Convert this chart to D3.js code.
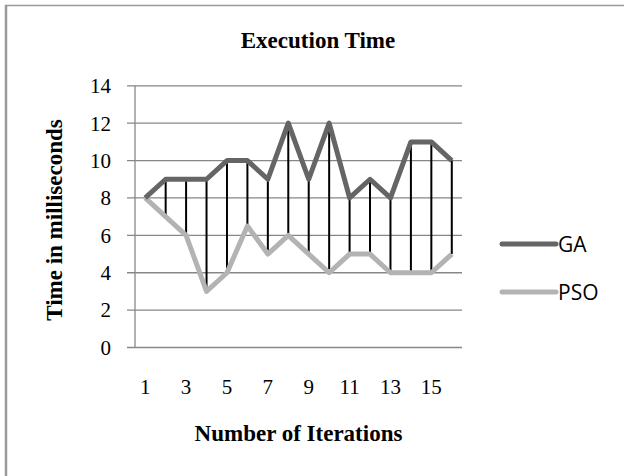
<!DOCTYPE html>
<html>
<head>
<meta charset="utf-8">
<script src="https://cdn.jsdelivr.net/npm/d3@7"></script>
<style>
  html, body { margin: 0; padding: 0; background: #fff; }
  svg { display: block; }
</style>
</head>
<body>
<svg id="chart" width="624" height="476"></svg>
<script>
const iterations = [1, 2, 3, 4, 5, 6, 7, 8, 9, 10, 11, 12, 13, 14, 15, 16];
const gaTimes    = [8, 9, 9, 9, 10, 10, 9, 12, 9, 12, 8, 9, 8, 11, 11, 10];
const psoTimes   = [8, 7, 6, 3, 4, 6.5, 5, 6, 5, 4, 5, 5, 4, 4, 4, 5];
const yTicks     = [0, 2, 4, 6, 8, 10, 12, 14];
const xTickLabels = [1, 3, 5, 7, 9, 11, 13, 15];
const seriesNames = ['GA', 'PSO'];

const W = 624, H = 476;
const plot = { left: 135, right: 462, top: 85.8, bottom: 347.5 };
const serif = '"Liberation Serif", "Times New Roman", serif';

const svg = d3.select('#chart');

// outer frame (only top and left edges show in the picture)
svg.append('rect')
    .attr('x', 5.5).attr('y', 5.5)
    .attr('width', W + 10).attr('height', H + 10)
    .attr('fill', '#fff')
    .attr('stroke', '#9a9a9a').attr('stroke-width', 1.5);
svg.append('line')
    .attr('x1', 6.5).attr('x2', 6.5).attr('y1', 5).attr('y2', H)
    .attr('stroke', '#9a9a9a').attr('stroke-width', 1.5);

const x = d3.scalePoint()
    .domain(iterations)
    .range([plot.left, plot.right])
    .padding(0.5);

const y = d3.scaleLinear()
    .domain([0, 14])
    .range([plot.bottom, plot.top]);

// gridlines + left tick marks
svg.append('g')
    .selectAll('line')
    .data(yTicks)
    .join('line')
    .attr('x1', plot.left - 8)
    .attr('x2', plot.right)
    .attr('y1', d => y(d))
    .attr('y2', d => y(d))
    .attr('stroke', '#878787')
    .attr('stroke-width', 1.3);

// y axis line
svg.append('line')
    .attr('x1', plot.left).attr('x2', plot.left)
    .attr('y1', plot.top).attr('y2', plot.bottom)
    .attr('stroke', '#878787').attr('stroke-width', 1.3);

// y tick labels
svg.append('g')
    .selectAll('text')
    .data(yTicks)
    .join('text')
    .attr('x', 111)
    .attr('y', d => y(d))
    .attr('dy', '0.35em')
    .attr('text-anchor', 'end')
    .style('font-family', serif)
    .style('font-size', '21px')
    .attr('fill', '#000')
    .text(d => d);

// x tick labels
svg.append('g')
    .selectAll('text')
    .data(xTickLabels)
    .join('text')
    .attr('x', d => x(d))
    .attr('y', 394)
    .attr('text-anchor', 'middle')
    .style('font-family', serif)
    .style('font-size', '21px')
    .attr('fill', '#000')
    .text(d => d);

// high-low lines
svg.append('g')
    .selectAll('line')
    .data(iterations)
    .join('line')
    .attr('x1', d => x(d)).attr('x2', d => x(d))
    .attr('y1', (d, i) => y(gaTimes[i]))
    .attr('y2', (d, i) => y(psoTimes[i]))
    .attr('stroke', '#000')
    .attr('stroke-width', 2);

const line = d3.line()
    .x((d, i) => x(iterations[i]))
    .y(d => y(d));

svg.append('path')
    .datum(psoTimes)
    .attr('d', line)
    .attr('fill', 'none')
    .attr('stroke', '#b3b3b3')
    .attr('stroke-width', 5)
    .attr('stroke-linejoin', 'round');

svg.append('path')
    .datum(gaTimes)
    .attr('d', line)
    .attr('fill', 'none')
    .attr('stroke', '#656565')
    .attr('stroke-width', 5)
    .attr('stroke-linejoin', 'round');

// titles
svg.append('text')
    .attr('x', 318).attr('y', 48)
    .attr('text-anchor', 'middle')
    .style('font-family', serif)
    .style('font-size', '23px')
    .style('font-weight', 'bold')
    .text('Execution Time');

svg.append('text')
    .attr('x', (plot.left + plot.right) / 2).attr('y', 441)
    .attr('text-anchor', 'middle')
    .style('font-family', serif)
    .style('font-size', '23px')
    .style('font-weight', 'bold')
    .text('Number of Iterations');

svg.append('text')
    .attr('transform', 'translate(62,' + 220 + ') rotate(-90)')
    .attr('text-anchor', 'middle')
    .style('font-family', serif)
    .style('font-size', '23px')
    .style('font-weight', 'bold')
    .text('Time in milliseconds');

// legend
const legendColors = ['#656565', '#b3b3b3'];
const legendY = [244, 292];
const legend = svg.append('g')
    .selectAll('g')
    .data(seriesNames)
    .join('g')
    .attr('transform', (d, i) => 'translate(0,' + legendY[i] + ')');

legend.append('line')
    .attr('x1', 502).attr('x2', 556)
    .attr('stroke', (d, i) => legendColors[i])
    .attr('stroke-width', 5)
    .attr('stroke-linecap', 'round');

legend.append('text')
    .attr('x', 558)
    .attr('dy', '0.36em')
    .style('font-family', '"Open Sans", "Noto Sans", sans-serif')
    .style('font-size', '21px')
    .attr('fill', '#000')
    .text(d => d);
</script>
</body>
</html>
